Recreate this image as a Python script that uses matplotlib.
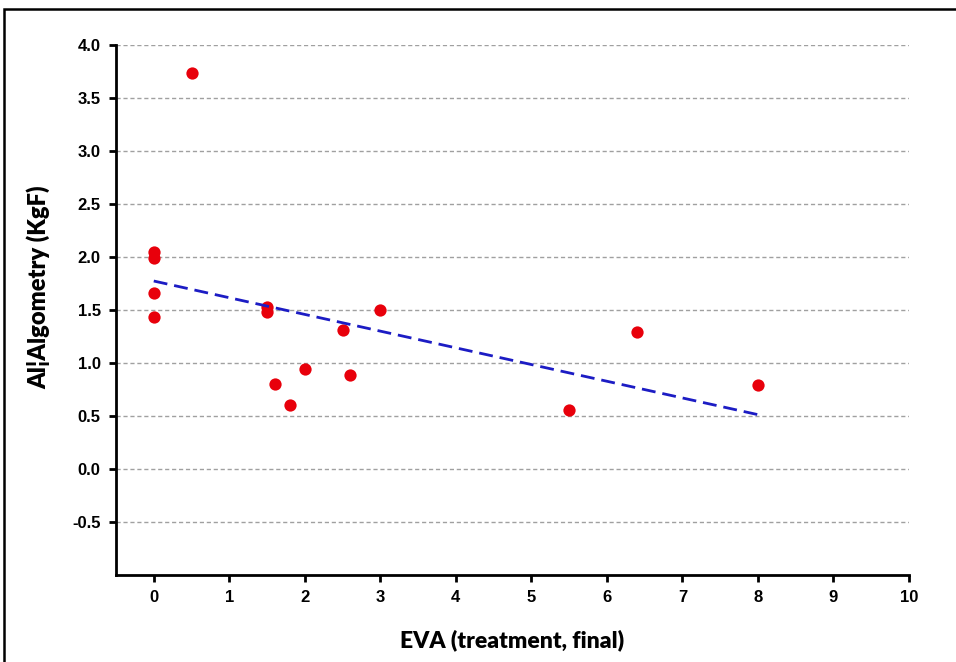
import matplotlib
matplotlib.use("Agg")
import matplotlib.pyplot as plt
import numpy as np
from matplotlib.patches import Rectangle

eva = [0, 0, 0, 0, 0.5, 1.5, 1.5, 1.6, 1.8, 2.0, 2.5, 2.6, 3.0, 5.5, 6.4, 8.0]
algometry = [2.05, 1.99, 1.66, 1.43, 3.74, 1.53, 1.48, 0.80, 0.60, 0.94, 1.31, 0.89, 1.50, 0.56, 1.29, 0.79]
x_ticks = list(range(0, 11))
y_ticks = [-0.5, 0.0, 0.5, 1.0, 1.5, 2.0, 2.5, 3.0, 3.5, 4.0]
y_ticklabels = ["-0.5", "0.0", "0.5", "1.0", "1.5", "2.0", "2.5", "3.0", "3.5", "4.0"]

tick_font = ["Liberation Sans Narrow", "Liberation Sans", "DejaVu Sans"]
label_font = ["Lato", "DejaVu Sans"]

fig = plt.figure(figsize=(9.56, 6.62), dpi=100)
ax = fig.add_axes([116/956, 1-575/662, (909-116)/956, (575-45)/662])

for yv in y_ticks:
    ax.axhline(yv, color="#a0a0a0", lw=1.0, ls=(0, (3, 2)), zorder=1)

ax.scatter(eva, algometry, s=78, color="#e8000b", zorder=3, linewidths=0)

coef = np.polyfit(eva, algometry, 1)
xl = np.array([min(eva), max(eva)])
ax.plot(xl, np.polyval(coef, xl), color="#1c1cc4", lw=2.0, ls=(0, (5, 2.5)), zorder=4)

ax.set_xlim(-0.5, 10)
ax.set_ylim(-1.0, 4.0)
ax.set_xticks(x_ticks)
ax.set_xticklabels([str(v) for v in x_ticks], fontfamily=tick_font, fontweight="bold", fontsize=12)
ax.set_yticks(y_ticks)
ax.set_yticklabels(y_ticklabels, fontfamily=tick_font, fontweight="bold", fontsize=12)
for s in ["top", "right"]:
    ax.spines[s].set_visible(False)
for s in ["left", "bottom"]:
    ax.spines[s].set_linewidth(2.0)
ax.tick_params(axis="both", direction="out", length=5, width=2.0, pad=6)

ax.set_xlabel("EVA (treatment, final)", fontfamily=label_font, fontweight="heavy", fontsize=16.5, labelpad=17)
ax.set_ylabel("Al\u00a6Algometry (KgF)", fontfamily=label_font, fontweight="heavy", fontsize=17)
ax.yaxis.set_label_coords(-0.083, 0.543)

fig.patches.append(Rectangle((4/956, -0.01), 1.0, 1-9/662+0.01, transform=fig.transFigure,
                             fill=False, edgecolor="black", lw=1.8))

fig.savefig("out.png", dpi=100)
